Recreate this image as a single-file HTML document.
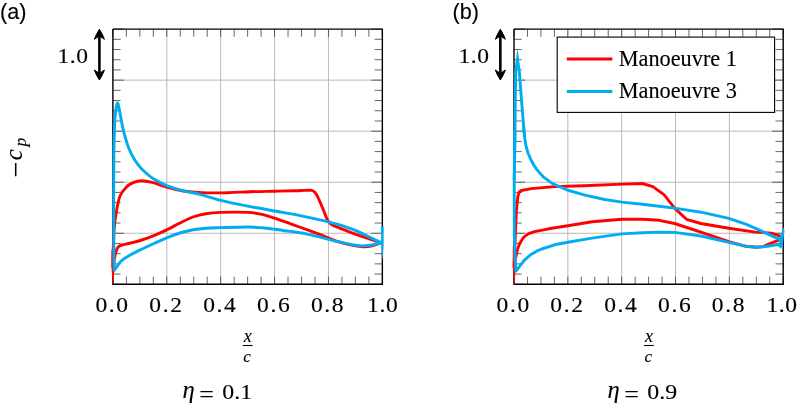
<!DOCTYPE html>
<html lang="en"><head><meta charset="utf-8"><title>Figure</title>
<style>html,body{margin:0;padding:0;background:#fff}svg{display:block}text{stroke:#000;stroke-width:.12px}</style></head>
<body>
<svg width="798" height="406" viewBox="0 0 798 406" font-family="'Liberation Serif', serif" fill="#000">
<rect width="798" height="406" fill="#fff"/>
<line x1="166.79" y1="29.1" x2="166.79" y2="284.3" stroke="#b9b9b9" stroke-width="1"/>
<line x1="112.9" y1="80.14" x2="382.35" y2="80.14" stroke="#b9b9b9" stroke-width="1"/>
<line x1="220.68" y1="29.1" x2="220.68" y2="284.3" stroke="#b9b9b9" stroke-width="1"/>
<line x1="112.9" y1="131.18" x2="382.35" y2="131.18" stroke="#b9b9b9" stroke-width="1"/>
<line x1="274.57" y1="29.1" x2="274.57" y2="284.3" stroke="#b9b9b9" stroke-width="1"/>
<line x1="112.9" y1="182.22" x2="382.35" y2="182.22" stroke="#b9b9b9" stroke-width="1"/>
<line x1="328.46" y1="29.1" x2="328.46" y2="284.3" stroke="#b9b9b9" stroke-width="1"/>
<line x1="112.9" y1="233.26" x2="382.35" y2="233.26" stroke="#b9b9b9" stroke-width="1"/>
<line x1="112.90" y1="29.1" x2="112.90" y2="36.800000000000004" stroke="#404040" stroke-width="0.8"/>
<line x1="112.90" y1="284.3" x2="112.90" y2="276.6" stroke="#404040" stroke-width="0.8"/>
<line x1="126.37" y1="29.1" x2="126.37" y2="36.800000000000004" stroke="#404040" stroke-width="0.8"/>
<line x1="126.37" y1="284.3" x2="126.37" y2="276.6" stroke="#404040" stroke-width="0.8"/>
<line x1="139.84" y1="29.1" x2="139.84" y2="36.800000000000004" stroke="#404040" stroke-width="0.8"/>
<line x1="139.84" y1="284.3" x2="139.84" y2="276.6" stroke="#404040" stroke-width="0.8"/>
<line x1="153.32" y1="29.1" x2="153.32" y2="36.800000000000004" stroke="#404040" stroke-width="0.8"/>
<line x1="153.32" y1="284.3" x2="153.32" y2="276.6" stroke="#404040" stroke-width="0.8"/>
<line x1="166.79" y1="29.1" x2="166.79" y2="36.800000000000004" stroke="#404040" stroke-width="0.8"/>
<line x1="166.79" y1="284.3" x2="166.79" y2="276.6" stroke="#404040" stroke-width="0.8"/>
<line x1="180.26" y1="29.1" x2="180.26" y2="36.800000000000004" stroke="#404040" stroke-width="0.8"/>
<line x1="180.26" y1="284.3" x2="180.26" y2="276.6" stroke="#404040" stroke-width="0.8"/>
<line x1="193.74" y1="29.1" x2="193.74" y2="36.800000000000004" stroke="#404040" stroke-width="0.8"/>
<line x1="193.74" y1="284.3" x2="193.74" y2="276.6" stroke="#404040" stroke-width="0.8"/>
<line x1="207.21" y1="29.1" x2="207.21" y2="36.800000000000004" stroke="#404040" stroke-width="0.8"/>
<line x1="207.21" y1="284.3" x2="207.21" y2="276.6" stroke="#404040" stroke-width="0.8"/>
<line x1="220.68" y1="29.1" x2="220.68" y2="36.800000000000004" stroke="#404040" stroke-width="0.8"/>
<line x1="220.68" y1="284.3" x2="220.68" y2="276.6" stroke="#404040" stroke-width="0.8"/>
<line x1="234.15" y1="29.1" x2="234.15" y2="36.800000000000004" stroke="#404040" stroke-width="0.8"/>
<line x1="234.15" y1="284.3" x2="234.15" y2="276.6" stroke="#404040" stroke-width="0.8"/>
<line x1="247.63" y1="29.1" x2="247.63" y2="36.800000000000004" stroke="#404040" stroke-width="0.8"/>
<line x1="247.63" y1="284.3" x2="247.63" y2="276.6" stroke="#404040" stroke-width="0.8"/>
<line x1="261.10" y1="29.1" x2="261.10" y2="36.800000000000004" stroke="#404040" stroke-width="0.8"/>
<line x1="261.10" y1="284.3" x2="261.10" y2="276.6" stroke="#404040" stroke-width="0.8"/>
<line x1="274.57" y1="29.1" x2="274.57" y2="36.800000000000004" stroke="#404040" stroke-width="0.8"/>
<line x1="274.57" y1="284.3" x2="274.57" y2="276.6" stroke="#404040" stroke-width="0.8"/>
<line x1="288.04" y1="29.1" x2="288.04" y2="36.800000000000004" stroke="#404040" stroke-width="0.8"/>
<line x1="288.04" y1="284.3" x2="288.04" y2="276.6" stroke="#404040" stroke-width="0.8"/>
<line x1="301.52" y1="29.1" x2="301.52" y2="36.800000000000004" stroke="#404040" stroke-width="0.8"/>
<line x1="301.52" y1="284.3" x2="301.52" y2="276.6" stroke="#404040" stroke-width="0.8"/>
<line x1="314.99" y1="29.1" x2="314.99" y2="36.800000000000004" stroke="#404040" stroke-width="0.8"/>
<line x1="314.99" y1="284.3" x2="314.99" y2="276.6" stroke="#404040" stroke-width="0.8"/>
<line x1="328.46" y1="29.1" x2="328.46" y2="36.800000000000004" stroke="#404040" stroke-width="0.8"/>
<line x1="328.46" y1="284.3" x2="328.46" y2="276.6" stroke="#404040" stroke-width="0.8"/>
<line x1="341.93" y1="29.1" x2="341.93" y2="36.800000000000004" stroke="#404040" stroke-width="0.8"/>
<line x1="341.93" y1="284.3" x2="341.93" y2="276.6" stroke="#404040" stroke-width="0.8"/>
<line x1="355.41" y1="29.1" x2="355.41" y2="36.800000000000004" stroke="#404040" stroke-width="0.8"/>
<line x1="355.41" y1="284.3" x2="355.41" y2="276.6" stroke="#404040" stroke-width="0.8"/>
<line x1="368.88" y1="29.1" x2="368.88" y2="36.800000000000004" stroke="#404040" stroke-width="0.8"/>
<line x1="368.88" y1="284.3" x2="368.88" y2="276.6" stroke="#404040" stroke-width="0.8"/>
<line x1="382.35" y1="29.1" x2="382.35" y2="36.800000000000004" stroke="#404040" stroke-width="0.8"/>
<line x1="382.35" y1="284.3" x2="382.35" y2="276.6" stroke="#404040" stroke-width="0.8"/>
<line x1="112.9" y1="29.10" x2="123.9" y2="29.10" stroke="#404040" stroke-width="0.8"/>
<line x1="382.35" y1="29.10" x2="371.35" y2="29.10" stroke="#404040" stroke-width="0.8"/>
<line x1="112.9" y1="39.31" x2="120.60000000000001" y2="39.31" stroke="#404040" stroke-width="0.8"/>
<line x1="382.35" y1="39.31" x2="374.65000000000003" y2="39.31" stroke="#404040" stroke-width="0.8"/>
<line x1="112.9" y1="49.52" x2="120.60000000000001" y2="49.52" stroke="#404040" stroke-width="0.8"/>
<line x1="382.35" y1="49.52" x2="374.65000000000003" y2="49.52" stroke="#404040" stroke-width="0.8"/>
<line x1="112.9" y1="59.72" x2="120.60000000000001" y2="59.72" stroke="#404040" stroke-width="0.8"/>
<line x1="382.35" y1="59.72" x2="374.65000000000003" y2="59.72" stroke="#404040" stroke-width="0.8"/>
<line x1="112.9" y1="69.93" x2="120.60000000000001" y2="69.93" stroke="#404040" stroke-width="0.8"/>
<line x1="382.35" y1="69.93" x2="374.65000000000003" y2="69.93" stroke="#404040" stroke-width="0.8"/>
<line x1="112.9" y1="80.14" x2="123.9" y2="80.14" stroke="#404040" stroke-width="0.8"/>
<line x1="382.35" y1="80.14" x2="371.35" y2="80.14" stroke="#404040" stroke-width="0.8"/>
<line x1="112.9" y1="90.35" x2="120.60000000000001" y2="90.35" stroke="#404040" stroke-width="0.8"/>
<line x1="382.35" y1="90.35" x2="374.65000000000003" y2="90.35" stroke="#404040" stroke-width="0.8"/>
<line x1="112.9" y1="100.56" x2="120.60000000000001" y2="100.56" stroke="#404040" stroke-width="0.8"/>
<line x1="382.35" y1="100.56" x2="374.65000000000003" y2="100.56" stroke="#404040" stroke-width="0.8"/>
<line x1="112.9" y1="110.76" x2="120.60000000000001" y2="110.76" stroke="#404040" stroke-width="0.8"/>
<line x1="382.35" y1="110.76" x2="374.65000000000003" y2="110.76" stroke="#404040" stroke-width="0.8"/>
<line x1="112.9" y1="120.97" x2="120.60000000000001" y2="120.97" stroke="#404040" stroke-width="0.8"/>
<line x1="382.35" y1="120.97" x2="374.65000000000003" y2="120.97" stroke="#404040" stroke-width="0.8"/>
<line x1="112.9" y1="131.18" x2="123.9" y2="131.18" stroke="#404040" stroke-width="0.8"/>
<line x1="382.35" y1="131.18" x2="371.35" y2="131.18" stroke="#404040" stroke-width="0.8"/>
<line x1="112.9" y1="141.39" x2="120.60000000000001" y2="141.39" stroke="#404040" stroke-width="0.8"/>
<line x1="382.35" y1="141.39" x2="374.65000000000003" y2="141.39" stroke="#404040" stroke-width="0.8"/>
<line x1="112.9" y1="151.60" x2="120.60000000000001" y2="151.60" stroke="#404040" stroke-width="0.8"/>
<line x1="382.35" y1="151.60" x2="374.65000000000003" y2="151.60" stroke="#404040" stroke-width="0.8"/>
<line x1="112.9" y1="161.80" x2="120.60000000000001" y2="161.80" stroke="#404040" stroke-width="0.8"/>
<line x1="382.35" y1="161.80" x2="374.65000000000003" y2="161.80" stroke="#404040" stroke-width="0.8"/>
<line x1="112.9" y1="172.01" x2="120.60000000000001" y2="172.01" stroke="#404040" stroke-width="0.8"/>
<line x1="382.35" y1="172.01" x2="374.65000000000003" y2="172.01" stroke="#404040" stroke-width="0.8"/>
<line x1="112.9" y1="182.22" x2="123.9" y2="182.22" stroke="#404040" stroke-width="0.8"/>
<line x1="382.35" y1="182.22" x2="371.35" y2="182.22" stroke="#404040" stroke-width="0.8"/>
<line x1="112.9" y1="192.43" x2="120.60000000000001" y2="192.43" stroke="#404040" stroke-width="0.8"/>
<line x1="382.35" y1="192.43" x2="374.65000000000003" y2="192.43" stroke="#404040" stroke-width="0.8"/>
<line x1="112.9" y1="202.64" x2="120.60000000000001" y2="202.64" stroke="#404040" stroke-width="0.8"/>
<line x1="382.35" y1="202.64" x2="374.65000000000003" y2="202.64" stroke="#404040" stroke-width="0.8"/>
<line x1="112.9" y1="212.84" x2="120.60000000000001" y2="212.84" stroke="#404040" stroke-width="0.8"/>
<line x1="382.35" y1="212.84" x2="374.65000000000003" y2="212.84" stroke="#404040" stroke-width="0.8"/>
<line x1="112.9" y1="223.05" x2="120.60000000000001" y2="223.05" stroke="#404040" stroke-width="0.8"/>
<line x1="382.35" y1="223.05" x2="374.65000000000003" y2="223.05" stroke="#404040" stroke-width="0.8"/>
<line x1="112.9" y1="233.26" x2="123.9" y2="233.26" stroke="#404040" stroke-width="0.8"/>
<line x1="382.35" y1="233.26" x2="371.35" y2="233.26" stroke="#404040" stroke-width="0.8"/>
<line x1="112.9" y1="243.47" x2="120.60000000000001" y2="243.47" stroke="#404040" stroke-width="0.8"/>
<line x1="382.35" y1="243.47" x2="374.65000000000003" y2="243.47" stroke="#404040" stroke-width="0.8"/>
<line x1="112.9" y1="253.68" x2="120.60000000000001" y2="253.68" stroke="#404040" stroke-width="0.8"/>
<line x1="382.35" y1="253.68" x2="374.65000000000003" y2="253.68" stroke="#404040" stroke-width="0.8"/>
<line x1="112.9" y1="263.88" x2="120.60000000000001" y2="263.88" stroke="#404040" stroke-width="0.8"/>
<line x1="382.35" y1="263.88" x2="374.65000000000003" y2="263.88" stroke="#404040" stroke-width="0.8"/>
<line x1="112.9" y1="274.09" x2="120.60000000000001" y2="274.09" stroke="#404040" stroke-width="0.8"/>
<line x1="382.35" y1="274.09" x2="374.65000000000003" y2="274.09" stroke="#404040" stroke-width="0.8"/>
<line x1="112.9" y1="284.30" x2="123.9" y2="284.30" stroke="#404040" stroke-width="0.8"/>
<line x1="382.35" y1="284.30" x2="371.35" y2="284.30" stroke="#404040" stroke-width="0.8"/>
<path d="M112.9 29.1 H382.35 V284.3 H112.9 V29.1" fill="none" stroke="#000" stroke-width="1.4" stroke-linejoin="miter" stroke-linecap="butt"/>
<path d="M113.40 268.00 C113.53 266.67 113.80 262.62 114.20 260.00 C114.60 257.38 115.25 254.30 115.80 252.30 C116.35 250.30 116.98 249.02 117.50 248.00 C118.02 246.98 118.15 246.70 118.90 246.20 C119.65 245.70 120.05 245.53 122.00 245.00 C123.95 244.47 127.32 243.83 130.60 243.00 C133.88 242.17 137.72 241.28 141.70 240.00 C145.68 238.72 150.33 236.98 154.50 235.30 C158.67 233.62 162.45 231.95 166.70 229.90 C170.95 227.85 175.62 225.15 180.00 223.00 C184.38 220.85 188.70 218.55 193.00 217.00 C197.30 215.45 201.22 214.47 205.80 213.70 C210.38 212.93 213.47 212.62 220.50 212.40 C227.53 212.18 241.28 212.10 248.00 212.40 C254.72 212.70 256.40 213.23 260.80 214.20 C265.20 215.17 269.53 216.63 274.40 218.20 C279.27 219.77 284.73 221.73 290.00 223.60 C295.27 225.47 300.67 227.45 306.00 229.40 C311.33 231.35 316.67 233.27 322.00 235.30 C327.33 237.33 332.67 239.87 338.00 241.60 C343.33 243.33 349.73 244.85 354.00 245.70 C358.27 246.55 360.40 246.73 363.60 246.70 C366.80 246.67 370.53 246.08 373.20 245.50 C375.87 244.92 378.22 243.68 379.60 243.20 C380.98 242.72 381.18 242.70 381.50 242.60" fill="none" stroke="#ff0000" stroke-width="2.9" stroke-linejoin="round" stroke-linecap="butt"/>
<path d="M111.5 250 L114.5 250 L114.5 270 L113.1 284.5 L112.5 284.5 L111.5 266 Z" fill="#ff0000"/>
<path d="M112.90 268.00 C112.95 265.00 112.98 256.67 113.20 250.00 C113.42 243.33 113.67 234.42 114.20 228.00 C114.73 221.58 115.43 216.83 116.40 211.50 C117.37 206.17 118.40 200.02 120.00 196.00 C121.60 191.98 123.80 189.63 126.00 187.40 C128.20 185.17 130.60 183.72 133.20 182.60 C135.80 181.48 138.43 180.73 141.60 180.70 C144.77 180.67 148.02 181.32 152.20 182.40 C156.38 183.48 161.52 185.77 166.70 187.20 C171.88 188.63 177.32 190.08 183.30 191.00 C189.28 191.92 195.15 192.42 202.60 192.70 C210.05 192.98 220.10 192.87 228.00 192.70 C235.90 192.53 242.23 191.95 250.00 191.70 C257.77 191.45 267.10 191.35 274.60 191.20 C282.10 191.05 290.10 190.93 295.00 190.80 C299.90 190.67 301.50 190.50 304.00 190.40 C306.50 190.30 309.00 190.23 310.00 190.20 L310.00 190.20 C310.37 190.25 311.48 190.25 312.20 190.50 C312.92 190.75 313.58 191.03 314.30 191.70 C315.02 192.37 315.62 192.95 316.50 194.50 C317.38 196.05 318.28 198.00 319.60 201.00 C320.92 204.00 323.17 209.50 324.40 212.50 C325.63 215.50 326.15 217.28 327.00 219.00 C327.85 220.72 328.58 221.80 329.50 222.80 C330.42 223.80 331.42 224.37 332.50 225.00 C333.58 225.63 332.42 225.17 336.00 226.60 C339.58 228.03 348.33 231.50 354.00 233.60 C359.67 235.70 365.73 237.73 370.00 239.20 C374.27 240.67 377.68 241.77 379.60 242.40 C381.52 243.03 381.18 242.90 381.50 243.00" fill="none" stroke="#ff0000" stroke-width="2.9" stroke-linejoin="round" stroke-linecap="butt"/>
<path d="M381.80 243.00 C381.43 242.82 381.57 242.83 379.60 241.90 C377.63 240.97 373.73 239.18 370.00 237.40 C366.27 235.62 361.73 233.13 357.20 231.20 C352.67 229.27 347.60 227.37 342.80 225.80 C338.00 224.23 334.53 223.30 328.40 221.80 C322.27 220.30 312.40 218.17 306.00 216.80 C299.60 215.43 295.23 214.57 290.00 213.60 C284.77 212.63 281.60 212.23 274.60 211.00 C267.60 209.77 257.02 207.97 248.00 206.20 C238.98 204.43 228.50 202.37 220.50 200.40 C212.50 198.43 206.20 196.00 200.00 194.40 C193.80 192.80 188.85 192.27 183.30 190.80 C177.75 189.33 170.92 187.18 166.70 185.60 C162.48 184.02 160.57 182.68 158.00 181.30 C155.43 179.92 153.80 179.13 151.30 177.30 C148.80 175.47 145.22 172.43 143.00 170.30 C140.78 168.17 139.55 166.50 138.00 164.50 C136.45 162.50 135.18 160.88 133.70 158.30 C132.22 155.72 130.48 152.38 129.10 149.00 C127.72 145.62 126.48 141.68 125.40 138.00 C124.32 134.32 123.57 131.40 122.60 126.90 C121.63 122.40 120.43 115.02 119.60 111.00 C118.77 106.98 118.25 102.80 117.60 102.80 C116.95 102.80 116.22 106.80 115.70 111.00 C115.18 115.20 114.80 121.50 114.50 128.00 C114.20 134.50 114.03 138.00 113.90 150.00 C113.77 162.00 113.70 182.50 113.70 200.00 C113.70 217.50 113.80 243.25 113.90 255.00 C114.00 266.75 114.23 267.92 114.30 270.50 L114.30 270.50 C114.97 269.52 117.02 266.30 118.30 264.60 C119.58 262.90 119.95 261.93 122.00 260.30 C124.05 258.67 127.32 256.65 130.60 254.80 C133.88 252.95 137.72 251.13 141.70 249.20 C145.68 247.27 150.33 245.10 154.50 243.20 C158.67 241.30 162.45 239.50 166.70 237.80 C170.95 236.10 175.62 234.33 180.00 233.00 C184.38 231.67 188.70 230.60 193.00 229.80 C197.30 229.00 201.22 228.57 205.80 228.20 C210.38 227.83 213.47 227.80 220.50 227.60 C227.53 227.40 241.08 226.97 248.00 227.00 C254.92 227.03 257.60 227.43 262.00 227.80 C266.40 228.17 269.73 228.60 274.40 229.20 C279.07 229.80 284.73 230.63 290.00 231.40 C295.27 232.17 300.67 232.77 306.00 233.80 C311.33 234.83 316.67 236.28 322.00 237.60 C327.33 238.92 332.67 240.47 338.00 241.70 C343.33 242.93 349.73 244.30 354.00 245.00 C358.27 245.70 360.40 245.93 363.60 245.90 C366.80 245.87 370.53 245.30 373.20 244.80 C375.87 244.30 378.17 243.33 379.60 242.90 C381.03 242.47 381.43 242.32 381.80 242.20" fill="none" stroke="#00aeef" stroke-width="2.9" stroke-linejoin="round" stroke-linecap="butt"/>
<path d="M380.9 226.8 L383.7 226.8 L383.6 245 L382.6 261.5 L381.4 245 Z" fill="#00aeef"/>
<line x1="567.84" y1="29.1" x2="567.84" y2="284.3" stroke="#b9b9b9" stroke-width="1"/>
<line x1="514.0" y1="80.14" x2="783.2" y2="80.14" stroke="#b9b9b9" stroke-width="1"/>
<line x1="621.68" y1="29.1" x2="621.68" y2="284.3" stroke="#b9b9b9" stroke-width="1"/>
<line x1="514.0" y1="131.18" x2="783.2" y2="131.18" stroke="#b9b9b9" stroke-width="1"/>
<line x1="675.52" y1="29.1" x2="675.52" y2="284.3" stroke="#b9b9b9" stroke-width="1"/>
<line x1="514.0" y1="182.22" x2="783.2" y2="182.22" stroke="#b9b9b9" stroke-width="1"/>
<line x1="729.36" y1="29.1" x2="729.36" y2="284.3" stroke="#b9b9b9" stroke-width="1"/>
<line x1="514.0" y1="233.26" x2="783.2" y2="233.26" stroke="#b9b9b9" stroke-width="1"/>
<line x1="514.00" y1="29.1" x2="514.00" y2="36.800000000000004" stroke="#404040" stroke-width="0.8"/>
<line x1="514.00" y1="284.3" x2="514.00" y2="276.6" stroke="#404040" stroke-width="0.8"/>
<line x1="527.46" y1="29.1" x2="527.46" y2="36.800000000000004" stroke="#404040" stroke-width="0.8"/>
<line x1="527.46" y1="284.3" x2="527.46" y2="276.6" stroke="#404040" stroke-width="0.8"/>
<line x1="540.92" y1="29.1" x2="540.92" y2="36.800000000000004" stroke="#404040" stroke-width="0.8"/>
<line x1="540.92" y1="284.3" x2="540.92" y2="276.6" stroke="#404040" stroke-width="0.8"/>
<line x1="554.38" y1="29.1" x2="554.38" y2="36.800000000000004" stroke="#404040" stroke-width="0.8"/>
<line x1="554.38" y1="284.3" x2="554.38" y2="276.6" stroke="#404040" stroke-width="0.8"/>
<line x1="567.84" y1="29.1" x2="567.84" y2="36.800000000000004" stroke="#404040" stroke-width="0.8"/>
<line x1="567.84" y1="284.3" x2="567.84" y2="276.6" stroke="#404040" stroke-width="0.8"/>
<line x1="581.30" y1="29.1" x2="581.30" y2="36.800000000000004" stroke="#404040" stroke-width="0.8"/>
<line x1="581.30" y1="284.3" x2="581.30" y2="276.6" stroke="#404040" stroke-width="0.8"/>
<line x1="594.76" y1="29.1" x2="594.76" y2="36.800000000000004" stroke="#404040" stroke-width="0.8"/>
<line x1="594.76" y1="284.3" x2="594.76" y2="276.6" stroke="#404040" stroke-width="0.8"/>
<line x1="608.22" y1="29.1" x2="608.22" y2="36.800000000000004" stroke="#404040" stroke-width="0.8"/>
<line x1="608.22" y1="284.3" x2="608.22" y2="276.6" stroke="#404040" stroke-width="0.8"/>
<line x1="621.68" y1="29.1" x2="621.68" y2="36.800000000000004" stroke="#404040" stroke-width="0.8"/>
<line x1="621.68" y1="284.3" x2="621.68" y2="276.6" stroke="#404040" stroke-width="0.8"/>
<line x1="635.14" y1="29.1" x2="635.14" y2="36.800000000000004" stroke="#404040" stroke-width="0.8"/>
<line x1="635.14" y1="284.3" x2="635.14" y2="276.6" stroke="#404040" stroke-width="0.8"/>
<line x1="648.60" y1="29.1" x2="648.60" y2="36.800000000000004" stroke="#404040" stroke-width="0.8"/>
<line x1="648.60" y1="284.3" x2="648.60" y2="276.6" stroke="#404040" stroke-width="0.8"/>
<line x1="662.06" y1="29.1" x2="662.06" y2="36.800000000000004" stroke="#404040" stroke-width="0.8"/>
<line x1="662.06" y1="284.3" x2="662.06" y2="276.6" stroke="#404040" stroke-width="0.8"/>
<line x1="675.52" y1="29.1" x2="675.52" y2="36.800000000000004" stroke="#404040" stroke-width="0.8"/>
<line x1="675.52" y1="284.3" x2="675.52" y2="276.6" stroke="#404040" stroke-width="0.8"/>
<line x1="688.98" y1="29.1" x2="688.98" y2="36.800000000000004" stroke="#404040" stroke-width="0.8"/>
<line x1="688.98" y1="284.3" x2="688.98" y2="276.6" stroke="#404040" stroke-width="0.8"/>
<line x1="702.44" y1="29.1" x2="702.44" y2="36.800000000000004" stroke="#404040" stroke-width="0.8"/>
<line x1="702.44" y1="284.3" x2="702.44" y2="276.6" stroke="#404040" stroke-width="0.8"/>
<line x1="715.90" y1="29.1" x2="715.90" y2="36.800000000000004" stroke="#404040" stroke-width="0.8"/>
<line x1="715.90" y1="284.3" x2="715.90" y2="276.6" stroke="#404040" stroke-width="0.8"/>
<line x1="729.36" y1="29.1" x2="729.36" y2="36.800000000000004" stroke="#404040" stroke-width="0.8"/>
<line x1="729.36" y1="284.3" x2="729.36" y2="276.6" stroke="#404040" stroke-width="0.8"/>
<line x1="742.82" y1="29.1" x2="742.82" y2="36.800000000000004" stroke="#404040" stroke-width="0.8"/>
<line x1="742.82" y1="284.3" x2="742.82" y2="276.6" stroke="#404040" stroke-width="0.8"/>
<line x1="756.28" y1="29.1" x2="756.28" y2="36.800000000000004" stroke="#404040" stroke-width="0.8"/>
<line x1="756.28" y1="284.3" x2="756.28" y2="276.6" stroke="#404040" stroke-width="0.8"/>
<line x1="769.74" y1="29.1" x2="769.74" y2="36.800000000000004" stroke="#404040" stroke-width="0.8"/>
<line x1="769.74" y1="284.3" x2="769.74" y2="276.6" stroke="#404040" stroke-width="0.8"/>
<line x1="783.20" y1="29.1" x2="783.20" y2="36.800000000000004" stroke="#404040" stroke-width="0.8"/>
<line x1="783.20" y1="284.3" x2="783.20" y2="276.6" stroke="#404040" stroke-width="0.8"/>
<line x1="514.0" y1="29.10" x2="525.0" y2="29.10" stroke="#404040" stroke-width="0.8"/>
<line x1="783.2" y1="29.10" x2="772.2" y2="29.10" stroke="#404040" stroke-width="0.8"/>
<line x1="514.0" y1="39.31" x2="521.7" y2="39.31" stroke="#404040" stroke-width="0.8"/>
<line x1="783.2" y1="39.31" x2="775.5" y2="39.31" stroke="#404040" stroke-width="0.8"/>
<line x1="514.0" y1="49.52" x2="521.7" y2="49.52" stroke="#404040" stroke-width="0.8"/>
<line x1="783.2" y1="49.52" x2="775.5" y2="49.52" stroke="#404040" stroke-width="0.8"/>
<line x1="514.0" y1="59.72" x2="521.7" y2="59.72" stroke="#404040" stroke-width="0.8"/>
<line x1="783.2" y1="59.72" x2="775.5" y2="59.72" stroke="#404040" stroke-width="0.8"/>
<line x1="514.0" y1="69.93" x2="521.7" y2="69.93" stroke="#404040" stroke-width="0.8"/>
<line x1="783.2" y1="69.93" x2="775.5" y2="69.93" stroke="#404040" stroke-width="0.8"/>
<line x1="514.0" y1="80.14" x2="525.0" y2="80.14" stroke="#404040" stroke-width="0.8"/>
<line x1="783.2" y1="80.14" x2="772.2" y2="80.14" stroke="#404040" stroke-width="0.8"/>
<line x1="514.0" y1="90.35" x2="521.7" y2="90.35" stroke="#404040" stroke-width="0.8"/>
<line x1="783.2" y1="90.35" x2="775.5" y2="90.35" stroke="#404040" stroke-width="0.8"/>
<line x1="514.0" y1="100.56" x2="521.7" y2="100.56" stroke="#404040" stroke-width="0.8"/>
<line x1="783.2" y1="100.56" x2="775.5" y2="100.56" stroke="#404040" stroke-width="0.8"/>
<line x1="514.0" y1="110.76" x2="521.7" y2="110.76" stroke="#404040" stroke-width="0.8"/>
<line x1="783.2" y1="110.76" x2="775.5" y2="110.76" stroke="#404040" stroke-width="0.8"/>
<line x1="514.0" y1="120.97" x2="521.7" y2="120.97" stroke="#404040" stroke-width="0.8"/>
<line x1="783.2" y1="120.97" x2="775.5" y2="120.97" stroke="#404040" stroke-width="0.8"/>
<line x1="514.0" y1="131.18" x2="525.0" y2="131.18" stroke="#404040" stroke-width="0.8"/>
<line x1="783.2" y1="131.18" x2="772.2" y2="131.18" stroke="#404040" stroke-width="0.8"/>
<line x1="514.0" y1="141.39" x2="521.7" y2="141.39" stroke="#404040" stroke-width="0.8"/>
<line x1="783.2" y1="141.39" x2="775.5" y2="141.39" stroke="#404040" stroke-width="0.8"/>
<line x1="514.0" y1="151.60" x2="521.7" y2="151.60" stroke="#404040" stroke-width="0.8"/>
<line x1="783.2" y1="151.60" x2="775.5" y2="151.60" stroke="#404040" stroke-width="0.8"/>
<line x1="514.0" y1="161.80" x2="521.7" y2="161.80" stroke="#404040" stroke-width="0.8"/>
<line x1="783.2" y1="161.80" x2="775.5" y2="161.80" stroke="#404040" stroke-width="0.8"/>
<line x1="514.0" y1="172.01" x2="521.7" y2="172.01" stroke="#404040" stroke-width="0.8"/>
<line x1="783.2" y1="172.01" x2="775.5" y2="172.01" stroke="#404040" stroke-width="0.8"/>
<line x1="514.0" y1="182.22" x2="525.0" y2="182.22" stroke="#404040" stroke-width="0.8"/>
<line x1="783.2" y1="182.22" x2="772.2" y2="182.22" stroke="#404040" stroke-width="0.8"/>
<line x1="514.0" y1="192.43" x2="521.7" y2="192.43" stroke="#404040" stroke-width="0.8"/>
<line x1="783.2" y1="192.43" x2="775.5" y2="192.43" stroke="#404040" stroke-width="0.8"/>
<line x1="514.0" y1="202.64" x2="521.7" y2="202.64" stroke="#404040" stroke-width="0.8"/>
<line x1="783.2" y1="202.64" x2="775.5" y2="202.64" stroke="#404040" stroke-width="0.8"/>
<line x1="514.0" y1="212.84" x2="521.7" y2="212.84" stroke="#404040" stroke-width="0.8"/>
<line x1="783.2" y1="212.84" x2="775.5" y2="212.84" stroke="#404040" stroke-width="0.8"/>
<line x1="514.0" y1="223.05" x2="521.7" y2="223.05" stroke="#404040" stroke-width="0.8"/>
<line x1="783.2" y1="223.05" x2="775.5" y2="223.05" stroke="#404040" stroke-width="0.8"/>
<line x1="514.0" y1="233.26" x2="525.0" y2="233.26" stroke="#404040" stroke-width="0.8"/>
<line x1="783.2" y1="233.26" x2="772.2" y2="233.26" stroke="#404040" stroke-width="0.8"/>
<line x1="514.0" y1="243.47" x2="521.7" y2="243.47" stroke="#404040" stroke-width="0.8"/>
<line x1="783.2" y1="243.47" x2="775.5" y2="243.47" stroke="#404040" stroke-width="0.8"/>
<line x1="514.0" y1="253.68" x2="521.7" y2="253.68" stroke="#404040" stroke-width="0.8"/>
<line x1="783.2" y1="253.68" x2="775.5" y2="253.68" stroke="#404040" stroke-width="0.8"/>
<line x1="514.0" y1="263.88" x2="521.7" y2="263.88" stroke="#404040" stroke-width="0.8"/>
<line x1="783.2" y1="263.88" x2="775.5" y2="263.88" stroke="#404040" stroke-width="0.8"/>
<line x1="514.0" y1="274.09" x2="521.7" y2="274.09" stroke="#404040" stroke-width="0.8"/>
<line x1="783.2" y1="274.09" x2="775.5" y2="274.09" stroke="#404040" stroke-width="0.8"/>
<line x1="514.0" y1="284.30" x2="525.0" y2="284.30" stroke="#404040" stroke-width="0.8"/>
<line x1="783.2" y1="284.30" x2="772.2" y2="284.30" stroke="#404040" stroke-width="0.8"/>
<path d="M514.0 29.1 H783.2 V284.3 H514.0 V29.1" fill="none" stroke="#000" stroke-width="1.4" stroke-linejoin="miter" stroke-linecap="butt"/>
<path d="M514.50 268.00 L515.30 259.50 L517.50 249.20 L519.80 243.30 L523.50 237.40 L528.60 233.70 L534.50 231.60 L544.90 229.60 L550.30 228.50 L567.90 225.80 L580.00 223.70 L592.10 221.80 L621.90 219.30 L642.40 219.30 L659.20 220.30 L674.60 223.50 L700.90 232.10 L728.80 241.70 L745.80 246.30 L756.70 247.30 L763.00 246.60 L769.30 243.80 L778.80 240.20 L781.10 239.40" fill="none" stroke="#ff0000" stroke-width="2.9" stroke-linejoin="round" stroke-linecap="butt"/>
<path d="M512.8 246 L515.5 246 L515.5 270 L514.5 284.8 L513.9 284.8 L512.7 264 Z" fill="#ff0000"/>
<path d="M514.10 268.00 L514.70 250.00 L516.30 212.10 L517.90 196.00 L519.30 192.00 L521.40 190.50 L531.40 188.60 L554.50 186.60 L583.80 185.80 L621.90 184.10 L642.40 183.50 L652.80 186.60 L664.00 194.60 L674.60 208.10 L686.50 219.30 L700.90 223.50 L728.80 228.30 L755.40 232.10 L771.40 233.10 L781.00 236.30" fill="none" stroke="#ff0000" stroke-width="2.9" stroke-linejoin="round" stroke-linecap="butt"/>
<path d="M515.00 130.00 L514.20 180.00 L514.30 235.00 L515.20 260.00 L515.90 271.00 L519.80 266.20 L524.20 260.30 L530.10 255.10 L537.50 250.70 L541.90 249.00 L554.50 244.80 L567.90 242.30 L592.10 238.10 L621.90 233.90 L642.40 232.70 L659.20 232.10 L674.60 232.40 L700.90 236.00 L728.80 242.40 L745.80 246.20 L756.70 247.20 L763.00 246.80 L769.30 246.00 L777.50 244.60 L780.30 245.60" fill="none" stroke="#00aeef" stroke-width="2.9" stroke-linejoin="round" stroke-linecap="butt"/>
<path d="M514.20 180.00 L515.00 130.00 L515.25 100.00 L515.70 71.60 L517.46 58.80 L519.30 71.60 L520.30 84.30 L521.90 105.00 L523.60 126.00 L524.60 137.00" fill="none" stroke="#00aeef" stroke-width="2.9" stroke-linejoin="miter" stroke-miterlimit="12" stroke-linecap="butt"/>
<path d="M523.60 126.00 L524.60 137.00 L525.90 145.70 L528.00 153.00 L530.80 159.50 L533.60 164.70 L536.70 169.40 L543.60 177.20 L552.50 183.70 L567.20 190.00 L585.00 195.20 L604.70 199.50 L621.90 202.10 L642.40 204.20 L659.20 206.30 L674.60 208.10 L700.90 212.20 L728.80 218.30 L745.80 224.10 L761.80 231.20 L781.00 240.10" fill="none" stroke="#00aeef" stroke-width="2.9" stroke-linejoin="round" stroke-linecap="butt"/>
<path d="M783.6 227.3 L784.5 231 L782.6 245.5 L781 249 L777.2 244.8 L780.2 241 L779 237.5 L781.8 233.5 Z" fill="#00aeef"/>
<rect x="557.2" y="37.1" width="217.39999999999998" height="75.30000000000001" fill="#fff" stroke="#000" stroke-width="1.1"/>
<line x1="566.8" y1="59.1" x2="612.4" y2="59.1" stroke="#ff0000" stroke-width="3"/>
<line x1="566.8" y1="91.5" x2="612.4" y2="91.5" stroke="#00aeef" stroke-width="3"/>
<text x="618.7" y="65.8" font-size="22.3">Manoeuvre 1</text>
<text x="618.7" y="98.3" font-size="22.3">Manoeuvre 3</text>
<text transform="translate(95.40,312.3) scale(1.08,1)" font-size="21.8" letter-spacing="1.5">0.0</text>
<text transform="translate(149.29,312.3) scale(1.08,1)" font-size="21.8" letter-spacing="1.5">0.2</text>
<text transform="translate(203.18,312.3) scale(1.08,1)" font-size="21.8" letter-spacing="1.5">0.4</text>
<text transform="translate(257.07,312.3) scale(1.08,1)" font-size="21.8" letter-spacing="1.5">0.6</text>
<text transform="translate(310.96,312.3) scale(1.08,1)" font-size="21.8" letter-spacing="1.5">0.8</text>
<text transform="translate(367.05,312.3) scale(1.08,1)" font-size="21.8" letter-spacing="0.6">1.0</text>
<text transform="translate(496.50,312.3) scale(1.08,1)" font-size="21.8" letter-spacing="1.5">0.0</text>
<text transform="translate(550.34,312.3) scale(1.08,1)" font-size="21.8" letter-spacing="1.5">0.2</text>
<text transform="translate(604.18,312.3) scale(1.08,1)" font-size="21.8" letter-spacing="1.5">0.4</text>
<text transform="translate(658.02,312.3) scale(1.08,1)" font-size="21.8" letter-spacing="1.5">0.6</text>
<text transform="translate(711.86,312.3) scale(1.08,1)" font-size="21.8" letter-spacing="1.5">0.8</text>
<text transform="translate(766.40,312.3) scale(1.08,1)" font-size="21.8" letter-spacing="0.6">1.0</text>
<line x1="99.4" y1="33.7" x2="99.4" y2="75.6" stroke="#000" stroke-width="2.6"/><path d="M99.4 29.3 Q95.80000000000001 34.9 94.4 39.3 L99.4 35.9 L104.4 39.3 Q103.0 34.9 99.4 29.3 Z" fill="#000" stroke="#000" stroke-width="1" stroke-linejoin="round"/><path d="M99.4 80.0 Q95.80000000000001 74.39999999999999 94.4 70.0 L99.4 73.39999999999999 L104.4 70.0 Q103.0 74.39999999999999 99.4 80.0 Z" fill="#000" stroke="#000" stroke-width="1" stroke-linejoin="round"/>
<line x1="500.35" y1="33.7" x2="500.35" y2="75.6" stroke="#000" stroke-width="2.6"/><path d="M500.35 29.3 Q496.75 34.9 495.35 39.3 L500.35 35.9 L505.35 39.3 Q503.95000000000005 34.9 500.35 29.3 Z" fill="#000" stroke="#000" stroke-width="1" stroke-linejoin="round"/><path d="M500.35 80.0 Q496.75 74.39999999999999 495.35 70.0 L500.35 73.39999999999999 L505.35 70.0 Q503.95000000000005 74.39999999999999 500.35 80.0 Z" fill="#000" stroke="#000" stroke-width="1" stroke-linejoin="round"/>
<text transform="translate(57.4,63.3) scale(1.08,1)" font-size="21.8" letter-spacing="0.6">1.0</text>
<text transform="translate(458.4,63.3) scale(1.08,1)" font-size="21.8" letter-spacing="0.6">1.0</text>
<text x="0" y="19.3" font-size="21.6" font-family="'Liberation Sans', sans-serif">(a)</text>
<text x="452.6" y="19.3" font-size="21.6" font-family="'Liberation Sans', sans-serif">(b)</text>
<text x="247.8" y="341.8" font-size="18" font-style="italic" text-anchor="middle">x</text>
<line x1="242.8" y1="345.5" x2="252.60000000000002" y2="345.5" stroke="#000" stroke-width="1.1"/>
<text x="247.10000000000002" y="361.7" font-size="17" font-style="italic" text-anchor="middle">c</text>
<text x="648.9" y="341.8" font-size="18" font-style="italic" text-anchor="middle">x</text>
<line x1="643.9" y1="345.5" x2="653.6999999999999" y2="345.5" stroke="#000" stroke-width="1.1"/>
<text x="648.1999999999999" y="361.7" font-size="17" font-style="italic" text-anchor="middle">c</text>
<text x="182.6" y="398.4" font-size="24.5" font-style="italic">η</text>
<text x="199.2" y="402.6" font-size="26">=</text>
<text transform="translate(222.3,398.5) scale(1.085,1)" font-size="22">0.1</text>
<text x="607.6" y="398.4" font-size="24.5" font-style="italic">η</text>
<text x="624.2" y="402.6" font-size="26">=</text>
<text transform="translate(647.3,398.5) scale(1.085,1)" font-size="22">0.9</text>
<text transform="translate(24.6,177.3) rotate(-90)" font-size="28">−</text>
<text transform="translate(22.3,160.2) rotate(-90)" font-size="24.5" font-style="italic">c</text>
<text transform="translate(26.2,146.6) rotate(-90)" font-size="17.5" font-style="italic">p</text>
</svg>
</body></html>
